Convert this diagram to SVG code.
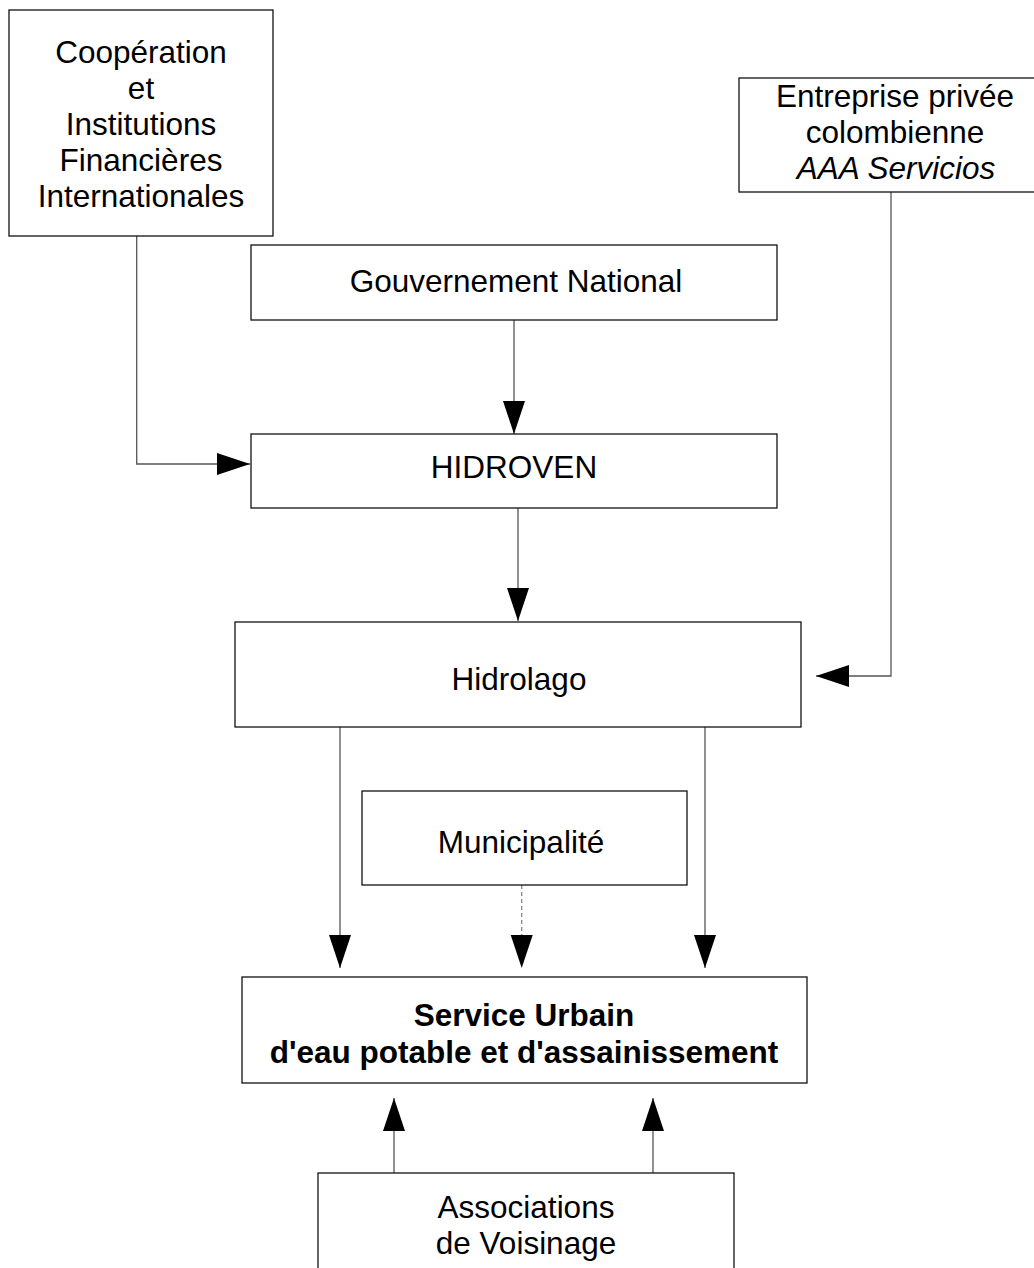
<svg xmlns="http://www.w3.org/2000/svg" width="1034" height="1268" viewBox="0 0 1034 1268">
<style>
.box{fill:#fff;stroke:#111;stroke-width:1.3}
.t{font-family:"Liberation Sans",Arial,sans-serif;font-size:31.5px;fill:#000;text-anchor:middle}
.b{font-weight:bold}
.i{font-style:italic}
.c{fill:none;stroke:#555;stroke-width:1.3}
.d{fill:none;stroke:#888;stroke-width:1.3;stroke-dasharray:4 3}
</style>
<defs>
<marker id="ah" markerUnits="userSpaceOnUse" markerWidth="34" markerHeight="23" refX="33" refY="11" orient="auto" viewBox="0 0 34 23">
<path d="M0,0 L33,11 L0,22 Z" fill="#000"/>
</marker>
</defs>
<rect width="1034" height="1268" fill="#fff"/>
<g id="connectors">
<path class="c" d="M136.7,236 V464 H250" marker-end="url(#ah)"/>
<path class="c" d="M514,320 V434" marker-end="url(#ah)"/>
<path class="c" d="M518,508 V621" marker-end="url(#ah)"/>
<path class="c" d="M891,192 V676 H816" marker-end="url(#ah)"/>
<path class="c" d="M340,727 V968" marker-end="url(#ah)"/>
<path class="c" d="M705,727 V968" marker-end="url(#ah)"/>
<path class="d" d="M521.7,885 V940"/>
<path d="M521.7,940 V968" fill="none" stroke="none" marker-end="url(#ah)"/>
<path class="c" d="M394,1173 V1098" marker-end="url(#ah)"/>
<path class="c" d="M653,1173 V1098" marker-end="url(#ah)"/>
</g>
<g id="cooperation">
<rect class="box" x="9" y="10" width="264" height="226"/>
<text class="t" x="141" y="62.5">Coopération</text>
<text class="t" x="141" y="98.5">et</text>
<text class="t" x="141" y="134.5">Institutions</text>
<text class="t" x="141" y="170.5">Financières</text>
<text class="t" x="141" y="206.5">Internationales</text>
</g>
<g id="entreprise">
<rect class="box" x="739" y="78" width="312" height="114"/>
<text class="t" x="895" y="106.5">Entreprise privée</text>
<text class="t" x="895" y="142.5">colombienne</text>
<text class="t i" x="896" y="178.5">AAA Servicios</text>
</g>
<g id="gouvernement">
<rect class="box" x="251" y="245" width="526" height="75"/>
<text class="t" x="516" y="292">Gouvernement National</text>
</g>
<g id="hidroven">
<rect class="box" x="251" y="434" width="526" height="74"/>
<text class="t" x="514" y="478">HIDROVEN</text>
</g>
<g id="hidrolago">
<rect class="box" x="235" y="622" width="566" height="105"/>
<text class="t" x="519" y="690">Hidrolago</text>
</g>
<g id="municipalite">
<rect class="box" x="362" y="791" width="325" height="94"/>
<text class="t" x="521" y="853">Municipalité</text>
</g>
<g id="service">
<rect class="box" x="242" y="977" width="565" height="106"/>
<text class="t b" x="524" y="1026">Service Urbain</text>
<text class="t b" x="524" y="1063">d'eau potable et d'assainissement</text>
</g>
<g id="associations">
<rect class="box" x="318" y="1173" width="416" height="120"/>
<text class="t" x="526" y="1218">Associations</text>
<text class="t" x="526" y="1254">de Voisinage</text>
</g>
</svg>
